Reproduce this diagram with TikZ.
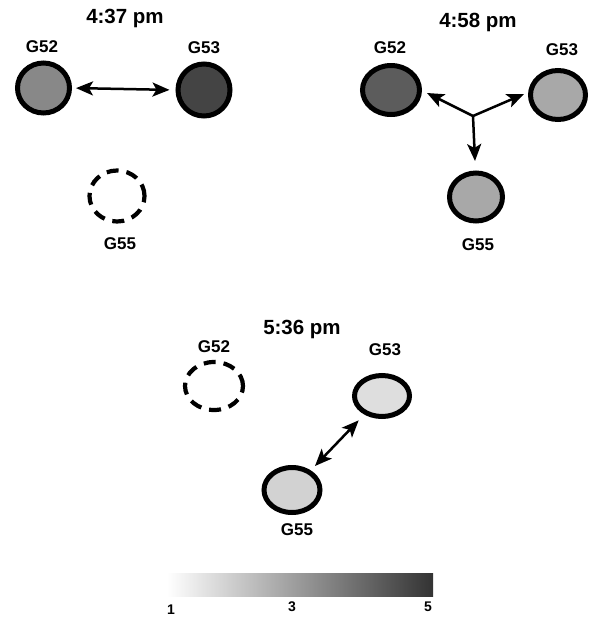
\documentclass[tikz,border=0pt]{standalone}
\usepackage{fontspec}
\setmainfont{Liberation Sans}
\usetikzlibrary{shapes.geometric,arrows.meta}
\definecolor{gA}{HTML}{888888}
\definecolor{gB}{HTML}{444444}
\definecolor{gC}{HTML}{5C5C5C}
\definecolor{gD}{HTML}{A8A8A8}
\definecolor{gE}{HTML}{DEDEDE}
\definecolor{gF}{HTML}{D2D2D2}
\tikzset{
  site/.style={ellipse, draw=black, line width=5pt, inner sep=0pt},
  gone/.style={ellipse, draw=black, line width=4.2pt, inner sep=0pt,
    dash pattern=on 12pt off 8pt},
  tag/.style={font=\bfseries\fontsize{17}{17}\selectfont, inner sep=0pt},
  stamp/.style={font=\bfseries\fontsize{20.5}{20.5}\selectfont, inner sep=0pt},
  tick/.style={font=\bfseries\fontsize{14}{14}\selectfont, inner sep=0pt},
  link/.style={line width=2.5pt, -{Stealth[length=17pt,width=14pt,inset=4pt]}},
  dlink/.style={line width=2.5pt, {Stealth[length=17pt,width=14pt,inset=4pt]}-{Stealth[length=17pt,width=14pt,inset=4pt]}},
}
\begin{document}
\begin{tikzpicture}[x=1pt,y=-1pt]
\useasboundingbox (0,0) rectangle (590,619);

% ---- 4:37 pm ----
\node[stamp] (t1) at (125,18) {4:37 pm};
\node[site, fill=gA, minimum width=52pt, minimum height=50pt] (a52) at (43.5,88) {};
\node[site, fill=gB, minimum width=52pt, minimum height=52pt] (a53) at (204,90) {};
\node[gone, minimum width=55pt, minimum height=51pt] (a55) at (117,196) {};
\node[tag] (la52) at (42,47) {G52};
\node[tag] (la53) at (204,48) {G53};
\node[tag] (la55) at (120,244) {G55};
\draw[dlink, shorten <=4pt, shorten >=6pt] (a52.east) -- (a53.west);

% ---- 4:58 pm ----
\node[stamp] (t2) at (478,22) {4:58 pm};
\node[site, fill=gC, minimum width=57pt, minimum height=49pt] (b52) at (391,90) {};
\node[site, fill=gD, minimum width=55pt, minimum height=49pt] (b53) at (558,95) {};
\node[site, fill=gD, minimum width=53pt, minimum height=48pt] (b55) at (476,197) {};
\node[tag] (lb52) at (390,48) {G52};
\node[tag] (lb53) at (562,50) {G53};
\node[tag] (lb55) at (478,245) {G55};
\coordinate (hub) at (473,116);
\coordinate (tb52) at (427,93);
\coordinate (tb53) at (524,94);
\coordinate (tb55) at (475,161);
\draw[link] (hub) -- (tb52);
\draw[link] (hub) -- (tb53);
\draw[link] (hub) -- (tb55);

% ---- 5:36 pm ----
\node[stamp] (t3) at (302,329) {5:36 pm};
\node[gone, minimum width=58pt, minimum height=48pt] (c52) at (214,386) {};
\node[site, fill=gE, minimum width=55pt, minimum height=41pt] (c53) at (382,396) {};
\node[site, fill=gF, minimum width=56pt, minimum height=45pt] (c55) at (292,490) {};
\node[tag] (lc52) at (214,347) {G52};
\node[tag] (lc53) at (385,350) {G53};
\node[tag] (lc55) at (297,530) {G55};
\draw[dlink, shorten <=8pt, shorten >=6pt] (c53) -- (c55);

% ---- colour scale ----
\shade[left color=white, right color=black!80] (167,573) rectangle (433,596);
\node[tick] (k1) at (171,610) {1};
\node[tick] (k3) at (292,607) {3};
\node[tick] (k5) at (428,607) {5};
\end{tikzpicture}
\end{document}
